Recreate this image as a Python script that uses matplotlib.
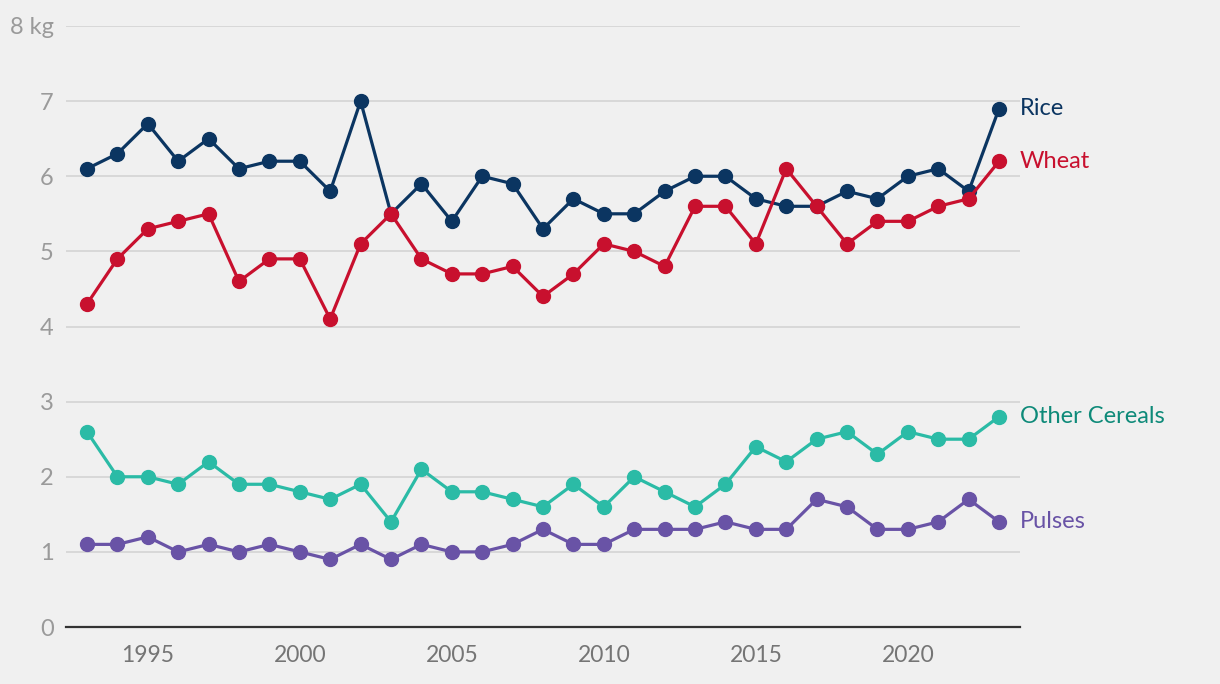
import numpy as np
from matplotlib import pyplot as plt

years = np.arange(1993, 2024)
rice = [6.1, 6.3, 6.7, 6.2, 6.5, 6.1, 6.2, 6.2, 5.8, 7.0, 5.5, 5.9, 5.4, 6.0, 5.9, 5.3,
        5.7, 5.5, 5.5, 5.8, 6.0, 6.0, 5.7, 5.6, 5.6, 5.8, 5.7, 6.0, 6.1, 5.8, 6.9]
wheat = [4.3, 4.9, 5.3, 5.4, 5.5, 4.6, 4.9, 4.9, 4.1, 5.1, 5.5, 4.9, 4.7, 4.7, 4.8, 4.4,
         4.7, 5.1, 5.0, 4.8, 5.6, 5.6, 5.1, 6.1, 5.6, 5.1, 5.4, 5.4, 5.6, 5.7, 6.2]
other_cereals = [2.6, 2.0, 2.0, 1.9, 2.2, 1.9, 1.9, 1.8, 1.7, 1.9, 1.4, 2.1, 1.8, 1.8, 1.7, 1.6,
                 1.9, 1.6, 2.0, 1.8, 1.6, 1.9, 2.4, 2.2, 2.5, 2.6, 2.3, 2.6, 2.5, 2.5, 2.8]
pulses = [1.1, 1.1, 1.2, 1.0, 1.1, 1.0, 1.1, 1.0, 0.9, 1.1, 0.9, 1.1, 1.0, 1.0, 1.1, 1.3,
          1.1, 1.1, 1.3, 1.3, 1.3, 1.4, 1.3, 1.3, 1.7, 1.6, 1.3, 1.3, 1.4, 1.7, 1.4]

series = [
    ("Rice", rice, "#0b3561", "#0b3561"),
    ("Wheat", wheat, "#c8102e", "#c8102e"),
    ("Other Cereals", other_cereals, "#2bbba6", "#0e8a79"),
    ("Pulses", pulses, "#6953a6", "#6953a6"),
]

plt.rcParams['font.family'] = ['Lato', 'DejaVu Sans']
bg = "#f0f0f0"
fig = plt.figure(figsize=(12.2, 6.84), dpi=100, facecolor=bg)
ax = fig.add_axes([0.0541, 0.0833, 0.7820, 0.8787])
ax.set_facecolor(bg)

for name, vals, col, tcol in series:
    ax.plot(years, vals, color=col, lw=2.3, marker='o', ms=10, zorder=3, clip_on=False)
    ax.annotate(name, (years[-1], vals[-1]), xytext=(15, 0), textcoords='offset points',
                va='center', ha='left', color=tcol, fontsize=17, annotation_clip=False)

ax.set_xlim(1992.31, 2023.69)
ax.set_ylim(0, 8)
ax.set_yticks(range(0, 9))
ax.set_yticklabels([str(i) for i in range(8)] + ["8 kg"])
ax.set_xticks([1995, 2000, 2005, 2010, 2015, 2020])
ax.grid(axis='y', color='#d6d6d6', lw=1.3, zorder=0)
ax.tick_params(axis='y', length=0, pad=9, labelsize=17, labelcolor='#9a9a9a')
ax.tick_params(axis='x', length=0, pad=13, labelsize=16.5, labelcolor='#757575')
for s in ['top', 'right', 'left']:
    ax.spines[s].set_visible(False)
ax.spines['bottom'].set_color('#333333')
ax.spines['bottom'].set_linewidth(1.6)
ax.spines['bottom'].set_zorder(4)

plt.savefig('out.png', dpi=100, facecolor=bg)
